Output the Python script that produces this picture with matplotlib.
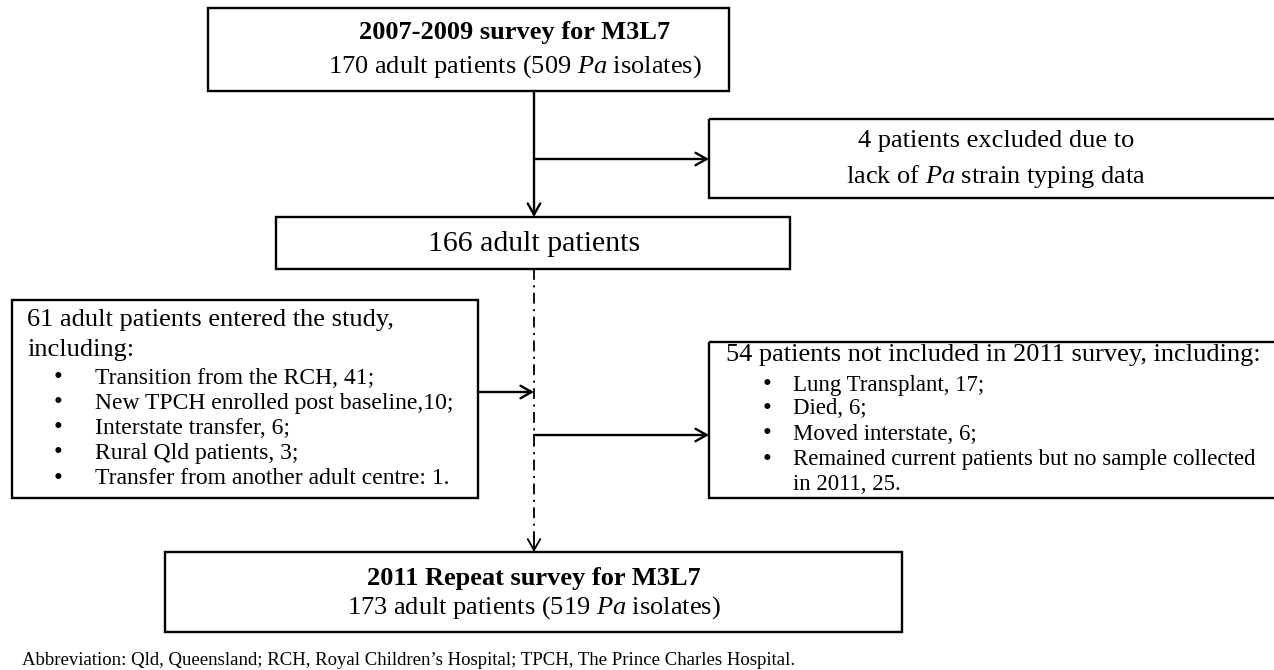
import matplotlib
matplotlib.use("Agg")
import matplotlib.pyplot as plt
from matplotlib.patches import Rectangle

plt.rcParams['font.family'] = ['Liberation Serif', 'DejaVu Serif']
plt.rcParams['mathtext.fontset'] = 'custom'
plt.rcParams['mathtext.rm'] = 'Liberation Serif'
plt.rcParams['mathtext.it'] = 'Liberation Serif:italic'
plt.rcParams['mathtext.bf'] = 'Liberation Serif:bold'

# ---- content ----
top_title = "2007-2009 survey for M3L7"
top_sub = "170 adult patients (509 $Pa$ isolates)"
excluded_lines = ["4 patients excluded due to", "lack of $Pa$ strain typing data"]
middle_text = "166 adult patients"
entered_header = ["61 adult patients entered the study,", "including:"]
entered_items = ["Transition from the RCH, 41;",
                 "New TPCH enrolled post baseline,10;",
                 "Interstate transfer, 6;",
                 "Rural Qld patients, 3;",
                 "Transfer from another adult centre: 1."]
notincl_header = "54 patients not included in 2011 survey, including:"
notincl_items = ["Lung Transplant, 17;",
                 "Died, 6;",
                 "Moved interstate, 6;",
                 "Remained current patients but no sample collected",
                 "in 2011, 25."]
notincl_bullets = [True, True, True, True, False]
bottom_title = "2011 Repeat survey for M3L7"
bottom_sub = "173 adult patients (519 $Pa$ isolates)"
footnote = "Abbreviation: Qld, Queensland; RCH, Royal Children\u2019s Hospital; TPCH, The Prince Charles Hospital."

W, H = 1274, 670
fig = plt.figure(figsize=(W / 100, H / 100), dpi=100)
ax = fig.add_axes([0, 0, 1, 1])
ax.set_xlim(0, W)
ax.set_ylim(H, 0)
ax.axis('off')

LW = 1.7

def box(x0, y0, x1, y1):
    ax.add_patch(Rectangle((x0, y0), x1 - x0, y1 - y0, fill=False,
                           edgecolor='black', linewidth=LW, clip_on=True))

def arrow(x0, y0, x1, y1, lw=LW):
    ax.annotate("", xy=(x1, y1), xytext=(x0, y0),
                arrowprops=dict(arrowstyle="->,head_length=0.8,head_width=0.45",
                                color='black', lw=lw, shrinkA=0, shrinkB=0))

# boxes
box(208, 8, 729, 91)
box(709, 119, 1280, 198)
box(276, 217, 790, 269)
box(12, 300, 478, 498)
box(709, 342, 1280, 498)
box(165, 552, 902, 632)

# connectors
XC = 534
arrow(XC, 91, XC, 217)
arrow(XC, 159, 709, 159)
# dash-dot line
ax.plot([XC, XC], [269, 540], color='black', lw=1.3,
        linestyle=(0, (6, 3, 1.2, 3)))
arrow(XC, 535, XC, 552, lw=1.3)
arrow(478, 392, XC, 392)
arrow(XC, 435, 709, 435)

FS = 19
# top box
ax.text(515, 33, top_title, fontsize=FS, fontweight='bold', ha='center', va='center')
ax.text(515, 67, top_sub, fontsize=FS, ha='center', va='center')
# excluded box
ax.text(996, 141, excluded_lines[0], fontsize=FS, ha='center', va='center')
ax.text(996, 176, excluded_lines[1], fontsize=FS, ha='center', va='center')
# middle box
ax.text(534, 244, middle_text, fontsize=21.5, ha='center', va='center')
# entered box
ax.text(27, 320, entered_header[0], fontsize=FS, ha='left', va='center')
ax.text(27, 350, entered_header[1], fontsize=FS, ha='left', va='center')
ys4 = [378, 403, 428, 453, 479]
for y, t in zip(ys4, entered_items):
    ax.text(58, y, "\u2022", fontsize=18, ha='center', va='center')
    ax.text(95, y, t, fontsize=17, ha='left', va='center')
# not included box
ax.text(726, 355, notincl_header, fontsize=FS, ha='left', va='center')
ys5 = [385, 409, 434, 460, 485]
for y, t, b in zip(ys5, notincl_items, notincl_bullets):
    if b:
        ax.text(767, y, "\u2022", fontsize=18, ha='center', va='center')
    ax.text(793, y, t, fontsize=16.5, ha='left', va='center')
# bottom box
ax.text(534, 578, bottom_title, fontsize=FS, fontweight='bold', ha='center', va='center')
ax.text(534, 608, bottom_sub, fontsize=FS, ha='center', va='center')
# footnote
ax.text(22, 665, footnote, fontsize=13.5, ha='left', va='baseline')

fig.savefig("out.png", dpi=100, facecolor='white')
